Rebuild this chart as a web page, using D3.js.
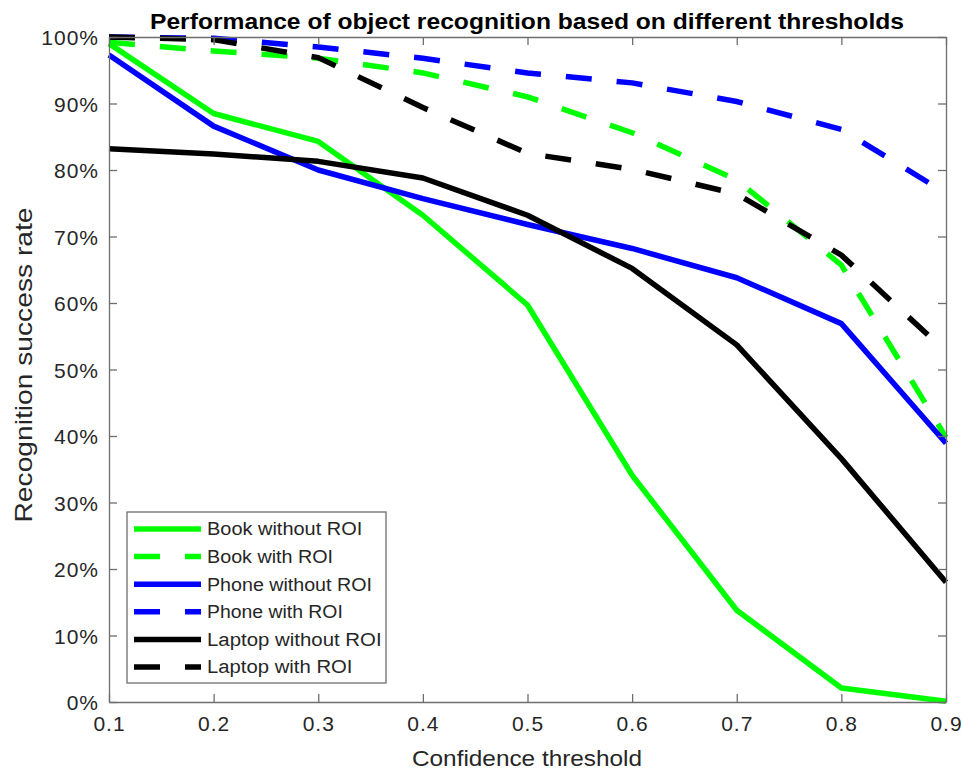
<!DOCTYPE html>
<html>
<head>
<meta charset="utf-8">
<script src="https://cdn.jsdelivr.net/npm/d3@7"></script>
<style>
  body { margin: 0; background: #fff; }
  text { font-family: "Liberation Sans", Arial, sans-serif; fill: #262626; }
</style>
</head>
<body>
<svg id="chart" width="962" height="771"></svg>
<script>
// thresholds on the x axis
var thresholds = [0.1, 0.2, 0.3, 0.4, 0.5, 0.6, 0.7, 0.8, 0.9];
var yTicks = [0, 10, 20, 30, 40, 50, 60, 70, 80, 90, 100];

// recognition success rate (%)
var bookNoRoi   = [99.0, 88.5, 84.3, 73.2, 59.7, 34.1, 13.8, 2.1, 0.1];
var bookRoi     = [99.2, 97.9, 96.8, 94.6, 91.0, 85.6, 78.5, 65.7, 39.8];
var phoneNoRoi  = [97.3, 86.6, 80.0, 75.7, 71.8, 68.2, 63.8, 56.9, 38.9];
var phoneRoi    = [100, 99.8, 98.5, 96.8, 94.6, 93.1, 90.3, 86.1, 76.5];
var laptopNoRoi = [83.2, 82.4, 81.3, 78.8, 73.2, 65.2, 53.7, 36.6, 18.0];
var laptopRoi   = [100, 99.6, 96.9, 89.4, 82.5, 80.1, 76.4, 67.2, 52.7];

var seriesNames = ["Book without ROI", "Book with ROI", "Phone without ROI",
                   "Phone with ROI", "Laptop without ROI", "Laptop with ROI"];
var seriesValues = [bookNoRoi, bookRoi, phoneNoRoi, phoneRoi, laptopNoRoi, laptopRoi];
var seriesColors = ["#00ff00", "#00ff00", "#0000ff", "#0000ff", "#000000", "#000000"];
var seriesDashed = [false, true, false, true, false, true];

var svg = d3.select("#chart"),
    margin = {top: 37, right: 16, bottom: 69, left: 109},
    width = 962 - margin.left - margin.right,
    height = 771 - margin.top - margin.bottom,
    g = svg.append("g").attr("transform", "translate(" + margin.left + "," + margin.top + ")");

var x = d3.scaleLinear().domain([0.1, 0.9]).range([0, width]),
    y = d3.scaleLinear().domain([0, 100]).range([height, 0]);

var axisColor = "#6e6e6e";

// lines first, clipped to the plot box
g.append("clipPath").attr("id", "clip")
  .append("rect").attr("x", -3).attr("y", -3).attr("width", width + 6).attr("height", height + 6);

var line = d3.line()
  .x(function(d, i) { return x(thresholds[i]); })
  .y(function(d) { return y(d); });

var plot = g.append("g").attr("clip-path", "url(#clip)");
for (var i = 0; i < seriesValues.length; i++) {
  plot.append("path")
    .datum(seriesValues[i])
    .attr("fill", "none")
    .attr("stroke", seriesColors[i])
    .attr("stroke-width", 5.5)
    .attr("stroke-linejoin", "round")
    .attr("stroke-dasharray", seriesDashed[i] ? "26,25" : null)
    .attr("d", line);
}

// axes with inward ticks on all four sides
var fmtPct = function(d) { return d + "%"; };
var xAxis = g.append("g").attr("transform", "translate(0," + height + ")")
  .call(d3.axisBottom(x).tickValues(thresholds).tickSizeInner(-8).tickSizeOuter(0).tickPadding(14)
        .tickFormat(d3.format(".1f")));
var xTop = g.append("g")
  .call(d3.axisTop(x).tickValues(thresholds).tickSizeInner(-8).tickSizeOuter(0).tickFormat(""));
var yAxis = g.append("g")
  .call(d3.axisLeft(y).tickValues(yTicks).tickSizeInner(-8).tickSizeOuter(0).tickPadding(10)
        .tickFormat(fmtPct));
var yRight = g.append("g").attr("transform", "translate(" + width + ",0)")
  .call(d3.axisRight(y).tickValues(yTicks).tickSizeInner(-8).tickSizeOuter(0).tickFormat(""));

[xAxis, xTop, yAxis, yRight].forEach(function(a) {
  a.select(".domain").attr("stroke", axisColor).attr("stroke-width", 1.3);
  a.selectAll(".tick line").attr("stroke", axisColor).attr("stroke-width", 1.3);
  a.selectAll(".tick text").attr("font-size", 21).attr("fill", "#262626")
    .attr("font-family", "Liberation Sans, Arial, sans-serif").attr("letter-spacing", 1);
});
yAxis.selectAll(".tick text").attr("dy", "0.36em");
xAxis.selectAll(".tick text").attr("dy", "0.72em");

// titles
svg.append("text")
  .attr("x", 527).attr("y", 29)
  .attr("text-anchor", "middle")
  .attr("font-size", 22.5).attr("font-weight", "bold")
  .attr("textLength", 754).attr("lengthAdjust", "spacingAndGlyphs")
  .style("fill", "#000")
  .text("Performance of object recognition based on different thresholds");

svg.append("text")
  .attr("x", 527).attr("y", 766)
  .attr("text-anchor", "middle")
  .attr("font-size", 22)
  .attr("textLength", 230).attr("lengthAdjust", "spacingAndGlyphs")
  .text("Confidence threshold");

svg.append("text")
  .attr("transform", "translate(32,365) rotate(-90)")
  .attr("text-anchor", "middle")
  .attr("font-size", 24)
  .attr("textLength", 315).attr("lengthAdjust", "spacingAndGlyphs")
  .text("Recognition success rate");

// legend
var legend = svg.append("g").attr("transform", "translate(127,512)");
legend.append("rect")
  .attr("width", 259).attr("height", 171)
  .attr("fill", "#fff").attr("stroke", axisColor).attr("stroke-width", 1.3);

var row = legend.selectAll(".row")
  .data(seriesNames)
  .enter().append("g")
  .attr("transform", function(d, i) { return "translate(0," + (17 + i * 27.6) + ")"; });

row.append("line")
  .attr("x1", 7).attr("x2", 74)
  .attr("stroke", function(d, i) { return seriesColors[i]; })
  .attr("stroke-width", 5.5)
  .attr("stroke-dasharray", function(d, i) { return seriesDashed[i] ? "26,25" : null; });

row.append("text")
  .attr("x", 80).attr("dy", "0.36em")
  .attr("font-size", 18)
  .attr("textLength", function(d) { return d.length * 9.7; })
  .attr("lengthAdjust", "spacingAndGlyphs")
  .text(function(d) { return d; });
</script>
</body>
</html>
